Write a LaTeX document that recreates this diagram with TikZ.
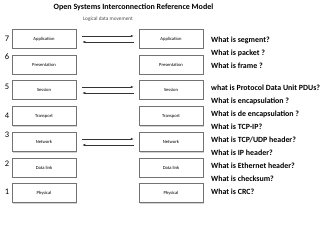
\documentclass[tikz,border=0pt]{standalone}
\usepackage{fontspec}
\setmainfont{Carlito}
\usetikzlibrary{arrows.meta,shadows}
\begin{document}
\begin{tikzpicture}[x=1pt,y=-1pt,
  layer/.style={draw=black!55,line width=0.5pt,fill=white,minimum width=64pt,minimum height=19pt,inner sep=0pt,font=\fontsize{4.6}{5}\selectfont,
    drop shadow={shadow xshift=1pt,shadow yshift=-1pt,fill=black!35}},
  num/.style={font=\fontsize{8.5}{9}\selectfont,anchor=center},
  q/.style={anchor=west,font=\bfseries\fontsize{7.9}{10}\selectfont,inner sep=0pt},
  flow/.style={-{Latex[length=3pt,width=2.5pt]},line width=0.6pt,black!80}]
\useasboundingbox (0,0) rectangle (320,240);
\node[font=\bfseries\fontsize{8}{9}\selectfont] (title) at (133.5,7.5) {Open Systems Interconnection Reference Model};
\node[font=\fontsize{5.3}{6}\selectfont,text=black!70] (logical) at (108,19) {Logical data movement};
\foreach \n/\t/\y in {a/Application/39,p/Presentation/64.5,s/Session/90,t/Transport/116,n/Network/142,d/Data link/167.5,ph/Physical/193}{
  \node[layer] (L\n) at (44,\y) {\t};
  \node[layer] (R\n) at (171,\y) {\t};
}
\node[num] (n7) at (7,39) {7};
\node[num] (n6) at (7,57) {6};
\node[num] (n5) at (7,87) {5};
\node[num] (n4) at (7,116) {4};
\node[num] (n3) at (7,135) {3};
\node[num] (n2) at (7,164) {2};
\node[num] (n1) at (7,192) {1};
\foreach \n in {a,s,n}{
  \draw[flow] ([xshift=6pt,yshift=3pt]L\n.east) -- ([xshift=-5pt,yshift=3pt]R\n.west);
  \draw[flow] ([xshift=-5pt,yshift=-3pt]R\n.west) -- ([xshift=6pt,yshift=-3pt]L\n.east);
}
\node[q] (q1) at (211,40) {What is segment?};
\node[q] (q2) at (211,53) {What is packet ?};
\node[q] (q3) at (211,66) {What is frame ?};
\node[q] (q4) at (211,88) {what is Protocol Data Unit PDUs?};
\node[q] (q5) at (211,101) {What is encapsulation ?};
\node[q] (q6) at (211,114) {What is de encapsulation ?};
\node[q] (q7) at (211,127) {What is TCP-IP?};
\node[q] (q8) at (211,140) {What is TCP/UDP header?};
\node[q] (q9) at (211,153) {What is IP header?};
\node[q] (q10) at (211,166) {What is Ethernet header?};
\node[q] (q11) at (211,179) {What is checksum?};
\node[q] (q12) at (211,192) {What is CRC?};
\end{tikzpicture}
\end{document}
